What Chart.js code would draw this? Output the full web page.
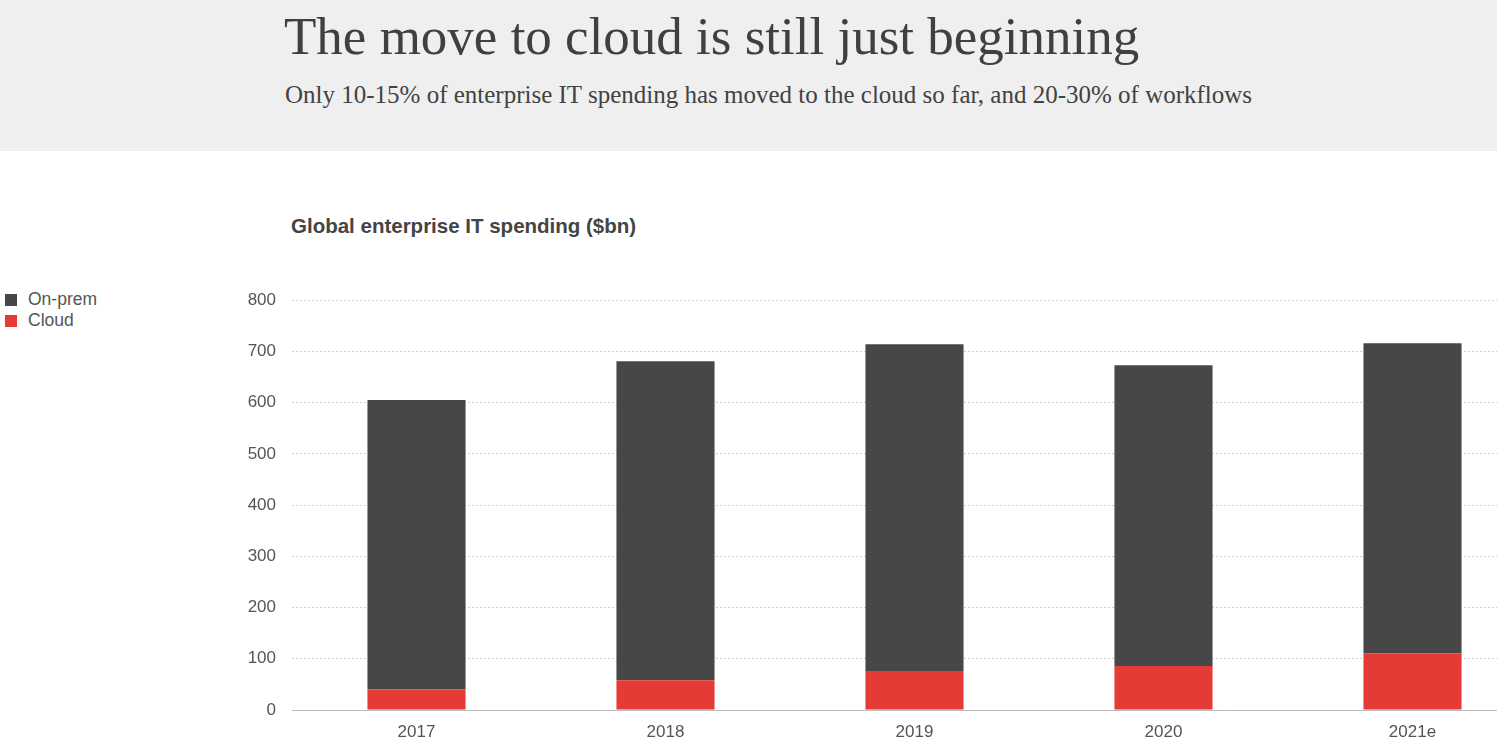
<!DOCTYPE html>
<html>
<head>
<meta charset="utf-8">
<script src="https://cdn.jsdelivr.net/npm/chart.js@4.4.1/dist/chart.umd.min.js"></script>
<style>
  html, body { margin: 0; padding: 0; width: 1497px; height: 749px; overflow: hidden; background: #fff; }
  #header { position: absolute; left: 0; top: 0; width: 1497px; height: 151px; background: #efefef; }
  #title { position: absolute; left: 284px; top: 6px; font-family: "Liberation Serif", serif; font-size: 53px; color: #404040; white-space: nowrap; }
  #subtitle { position: absolute; left: 285px; top: 81px; font-family: "Liberation Serif", serif; font-size: 25px; color: #424242; white-space: nowrap; }
  #ctitle { position: absolute; left: 291px; top: 214px; font-family: "Liberation Sans", Arial, sans-serif; font-weight: bold; font-size: 20.5px; color: #444; white-space: nowrap; }
  #legend { position: absolute; left: 5px; top: 289px; font-family: "Liberation Sans", Arial, sans-serif; font-size: 17.5px; color: #555; }
  .li { height: 21px; display: flex; align-items: center; }
  .sw { width: 12px; height: 12px; margin-right: 11px; }
  #wrap { position: absolute; left: 0; top: 274px; width: 1540px; height: 475px; }
</style>
</head>
<body>
<div id="header">
  <div id="title">The move to cloud is still just beginning</div>
  <div id="subtitle">Only 10-15% of enterprise IT spending has moved to the cloud so far, and 20-30% of workflows</div>
</div>
<div id="ctitle">Global enterprise IT spending ($bn)</div>
<div id="legend"></div>
<div id="wrap"><canvas id="c"></canvas></div>
<script>
const categories = ["2017", "2018", "2019", "2020", "2021e"];
const cloud = [40, 58, 76, 86, 111];
const onPrem = [565, 623, 638, 587, 605];
const seriesNames = ["On-prem", "Cloud"];
const seriesColors = ["#474747", "#e53b36"];
const yTicks = [0, 100, 200, 300, 400, 500, 600, 700, 800];

const legend = document.getElementById('legend');
seriesNames.forEach((n, i) => {
  const d = document.createElement('div');
  d.className = 'li';
  d.innerHTML = '<span class="sw" style="background:' + seriesColors[i] + '"></span><span>' + n + '</span>';
  legend.appendChild(d);
});

const font = { family: '"Liberation Sans", Arial, sans-serif', size: 17 };
new Chart(document.getElementById('c'), {
  type: 'bar',
  data: {
    labels: categories,
    datasets: [
      { label: seriesNames[1], data: cloud, backgroundColor: seriesColors[1], order: 1 },
      { label: seriesNames[0], data: onPrem, backgroundColor: seriesColors[0], order: 2 }
    ]
  },
  options: {
    responsive: true,
    maintainAspectRatio: false,
    animation: false,
    layout: { padding: { top: 13, right: 3, left: 0, bottom: 0 } },
    plugins: { legend: { display: false }, title: { display: false }, tooltip: { enabled: false } },
    datasets: { bar: { categoryPercentage: 1, barPercentage: 0.394 } },
    scales: {
      x: {
        stacked: true,
        grid: { display: false, drawTicks: false },
        border: { display: true, color: '#bdbdbd', width: 1 },
        ticks: { color: '#555', font: font, padding: 12 },
        afterFit: s => { s.height = 39; }
      },
      y: {
        stacked: true,
        min: 0, max: 800,
        afterBuildTicks: s => { s.ticks = yTicks.map(v => ({ value: v })); },
        grid: {
          drawTicks: false,
          color: ctx => ctx.tick && ctx.tick.value === 0 ? 'rgba(0,0,0,0)' : '#cfcfcf',
          lineWidth: 1
        },
        border: { display: false, dash: [2, 2] },
        ticks: { color: '#555', font: font, padding: 16 },
        afterFit: s => { s.width = 292; }
      }
    }
  }
});
</script>
</body>
</html>
